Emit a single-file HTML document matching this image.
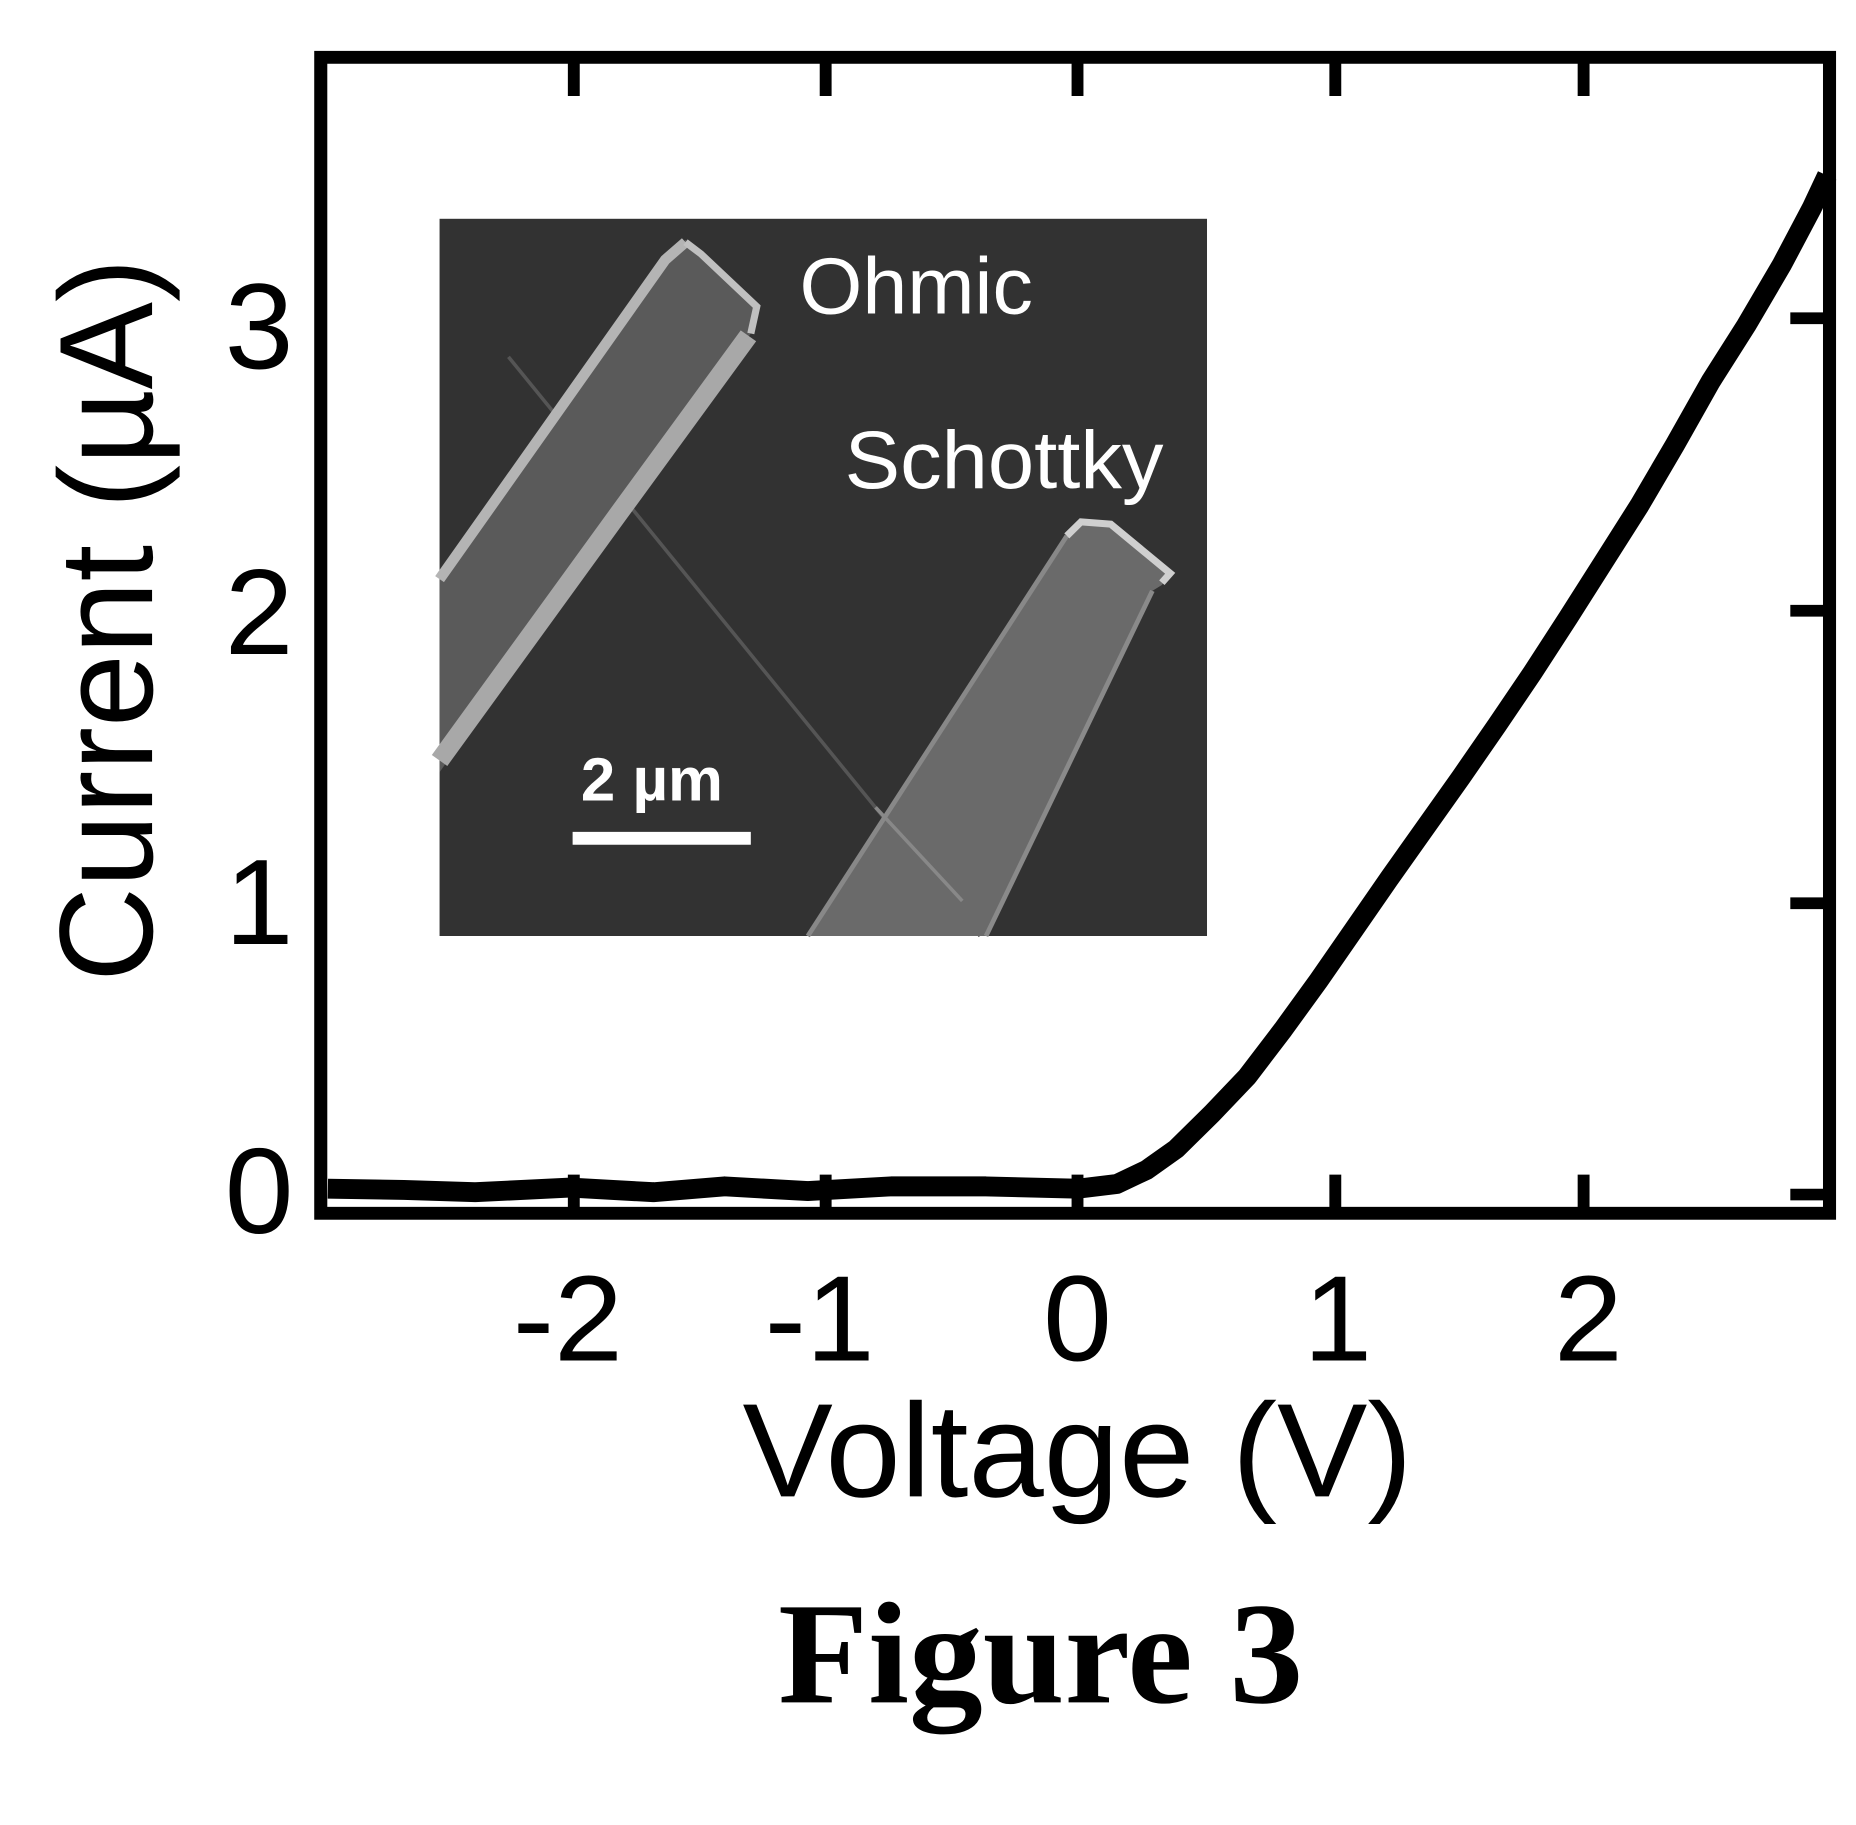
<!DOCTYPE html>
<html><head><meta charset="utf-8"><style>html,body{margin:0;padding:0;background:#fff}svg{display:block}</style></head>
<body>
<svg width="1856" height="1825" viewBox="0 0 1856 1825" xmlns="http://www.w3.org/2000/svg">
<g transform="scale(1.188,1.17)" font-family="Liberation Sans, Arial, sans-serif">
  <rect x="370" y="187" width="646" height="613" fill="#323232"/>
  <line x1="428" y1="305" x2="825" y2="800" stroke="#555" stroke-width="3"/>
  <polygon points="370,490 560,220 577,205 590,215 637,262 632,285 370,660" fill="#5a5a5a"/>
  <polyline points="370,495 560,222 577,207" fill="none" stroke="#b4b4b4" stroke-width="9"/>
  <polyline points="577,207 590,217 637,262 632,285" fill="none" stroke="#c0c0c0" stroke-width="6"/>
  <polyline points="630,287 520,440 370,650" fill="none" stroke="#a8a8a8" stroke-width="16"/>
  <polygon points="680,800 900,455 910,445 935,447 985,490 978,500 970,505 830,800" fill="#6a6a6a"/>
  <polyline points="680,800 898,458" fill="none" stroke="#888" stroke-width="4"/>
  <polyline points="898,458 910,446 935,448 985,490 978,498" fill="none" stroke="#cfcfcf" stroke-width="6"/>
  <polyline points="970,505 830,800" fill="none" stroke="#8a8a8a" stroke-width="4"/>
  <line x1="737" y1="690" x2="810" y2="770" stroke="#888" stroke-width="3"/>
  <text x="673" y="268" font-size="68" fill="#fff">Ohmic</text>
  <text x="711" y="417" font-size="70" fill="#fff">Schottky</text>
  <text x="489" y="684" font-size="52" font-weight="bold" fill="#fff">2 µm</text>
  <rect x="482" y="711" width="150" height="11" fill="#fff"/>

  <polyline fill="none" stroke="#000" stroke-width="17" stroke-linejoin="round"
    points="276,1016 340,1017 400,1019 480,1015 550,1019 610,1014 680,1018 750,1014 830,1014 907,1016 940,1012 965,1000 990,982 1020,952 1050,920 1080,880 1110,838 1140,794 1170,750 1200,707 1230,664 1260,620 1290,575 1320,528 1350,480 1380,432 1410,380 1440,326 1470,278 1500,226 1525,178 1538,150"/>

  <rect x="270" y="49" width="1270" height="988" fill="none" stroke="#000" stroke-width="11"/>
  <g stroke="#000" stroke-width="10">
    <line x1="483" y1="49" x2="483" y2="82"/><line x1="483" y1="1037" x2="483" y2="1004"/>
    <line x1="695" y1="49" x2="695" y2="82"/><line x1="695" y1="1037" x2="695" y2="1004"/>
    <line x1="907" y1="49" x2="907" y2="82"/><line x1="907" y1="1037" x2="907" y2="1004"/>
    <line x1="1124" y1="49" x2="1124" y2="82"/><line x1="1124" y1="1037" x2="1124" y2="1004"/>
    <line x1="1333" y1="49" x2="1333" y2="82"/><line x1="1333" y1="1037" x2="1333" y2="1004"/>
    <line x1="1540" y1="1021" x2="1507" y2="1021"/>
    <line x1="1540" y1="772" x2="1507" y2="772"/>
    <line x1="1540" y1="522" x2="1507" y2="522"/>
    <line x1="1540" y1="272" x2="1507" y2="272"/>
  </g>
  <g font-size="104" fill="#000">
    <text x="247" y="1054" text-anchor="end">0</text>
    <text x="247" y="807" text-anchor="end">1</text>
    <text x="247" y="559" text-anchor="end">2</text>
    <text x="247" y="315" text-anchor="end">3</text>
    <text x="478" y="1163" text-anchor="middle">-2</text>
    <text x="690" y="1163" text-anchor="middle">-1</text>
    <text x="907" y="1163" text-anchor="middle">0</text>
    <text x="1126" y="1163" text-anchor="middle">1</text>
    <text x="1337" y="1163" text-anchor="middle">2</text>
  </g>
  <text x="907" y="1279" font-size="114" text-anchor="middle">Voltage (V)</text>
  <text transform="translate(128,530) rotate(-90)" font-size="112" text-anchor="middle">Current (µA)</text>
  <text x="876" y="1455" font-size="124" font-weight="bold" text-anchor="middle" font-family="Liberation Serif, Times New Roman, serif">Figure 3</text>
</g>
</svg>
</body></html>
